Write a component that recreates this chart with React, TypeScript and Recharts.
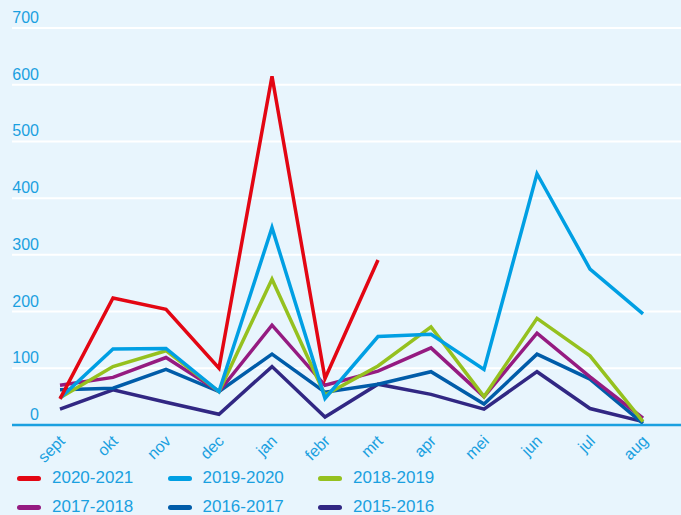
import React from 'react';
import { LineChart, Line, XAxis, YAxis, CartesianGrid } from 'recharts';

const months = ['sept', 'okt', 'nov', 'dec', 'jan', 'febr', 'mrt', 'apr', 'mei', 'jun', 'jul', 'aug'];
const s2020: (number | null)[] = [46, 224, 204, 100, 615, 82, 291, null, null, null, null, null];
const s2019: (number | null)[] = [47, 134, 135, 59, 348, 47, 156, 160, 98, 443, 275, 196];
const s2018: (number | null)[] = [48, 103, 131, 59, 257, 53, 104, 173, 50, 188, 122, 6];
const s2017: (number | null)[] = [70, 84, 119, 59, 176, 70, 95, 136, 50, 162, 85, 12];
const s2016: (number | null)[] = [62, 65, 98, 59, 125, 58, 72, 94, 37, 125, 81, 3];
const s2015: (number | null)[] = [28, 62, 40, 19, 103, 14, 72, 54, 28, 94, 29, 6];
const yTicks = [0, 100, 200, 300, 400, 500, 600, 700];

const seriesNames = ['2020-2021', '2019-2020', '2018-2019', '2017-2018', '2016-2017', '2015-2016'];
const seriesKeys = ['s2020', 's2019', 's2018', 's2017', 's2016', 's2015'];
const seriesColors = ['#e30613', '#009fe3', '#95c11f', '#951b81', '#005ca9', '#312783'];
const seriesValues = [s2020, s2019, s2018, s2017, s2016, s2015];

const data = months.map((m, i) => {
  const row: any = { month: m };
  seriesKeys.forEach((k, j) => {
    row[k] = seriesValues[j][i];
  });
  return row;
});

const TEXT = '#1aa0e0';
const FONT = '"Liberation Sans", Arial, sans-serif';

const XTick = (props: any) => {
  const { x, y, payload } = props;
  const ax = x + 6;
  const ay = y + 9;
  return (
    <text
      x={ax}
      y={ay}
      transform={`rotate(-45, ${ax}, ${ay})`}
      textAnchor="end"
      fill={TEXT}
      fontSize={16}
      fontFamily={FONT}
    >
      {payload.value}
    </text>
  );
};

const YTick = (props: any) => {
  const { y, payload } = props;
  return (
    <text x={39} y={y - 5} textAnchor="end" fill={TEXT} fontSize={16} fontFamily={FONT}>
      {payload.value}
    </text>
  );
};

export default function App() {
  const order = [5, 4, 3, 2, 1, 0];
  return (
    <div style={{ position: 'absolute', left: 0, top: 0, width: 681, height: 515, background: '#e8f5fd', overflow: 'hidden' }}>
      <LineChart width={681} height={515} data={data} margin={{ top: 28, right: 0, left: 0, bottom: 0 }}>
        <CartesianGrid horizontal={true} vertical={false} stroke="#ffffff" strokeWidth={2} />
        <XAxis
          dataKey="month"
          interval={0}
          padding={{ left: 48, right: 38 }}
          axisLine={{ stroke: '#1aa0e0', strokeWidth: 2.5 }}
          tickLine={false}
          tick={<XTick />}
          height={90}
        />
        <YAxis
          width={12}
          domain={[0, 700]}
          ticks={yTicks}
          axisLine={false}
          tickLine={false}
          tick={<YTick />}
          interval={0}
        />
        {order.map((j) => (
          <Line
            key={seriesKeys[j]}
            type="linear"
            dataKey={seriesKeys[j]}
            name={seriesNames[j]}
            stroke={seriesColors[j]}
            strokeWidth={3.5}
            dot={false}
            activeDot={false}
            isAnimationActive={false}
            connectNulls={false}
          />
        ))}
      </LineChart>
      {seriesNames.map((n, j) => {
        const col = j % 3;
        const row = Math.floor(j / 3);
        const left = 17 + col * 150.5;
        const top = 478 + row * 29;
        return (
          <div key={n} style={{ position: 'absolute', left, top: top - 12, height: 24, display: 'flex', alignItems: 'center', fontFamily: FONT, fontSize: 17, color: TEXT }}>
            <div style={{ width: 24, height: 5, borderRadius: 3, background: seriesColors[j], marginRight: 11 }} />
            <span>{n}</span>
          </div>
        );
      })}
    </div>
  );
}
